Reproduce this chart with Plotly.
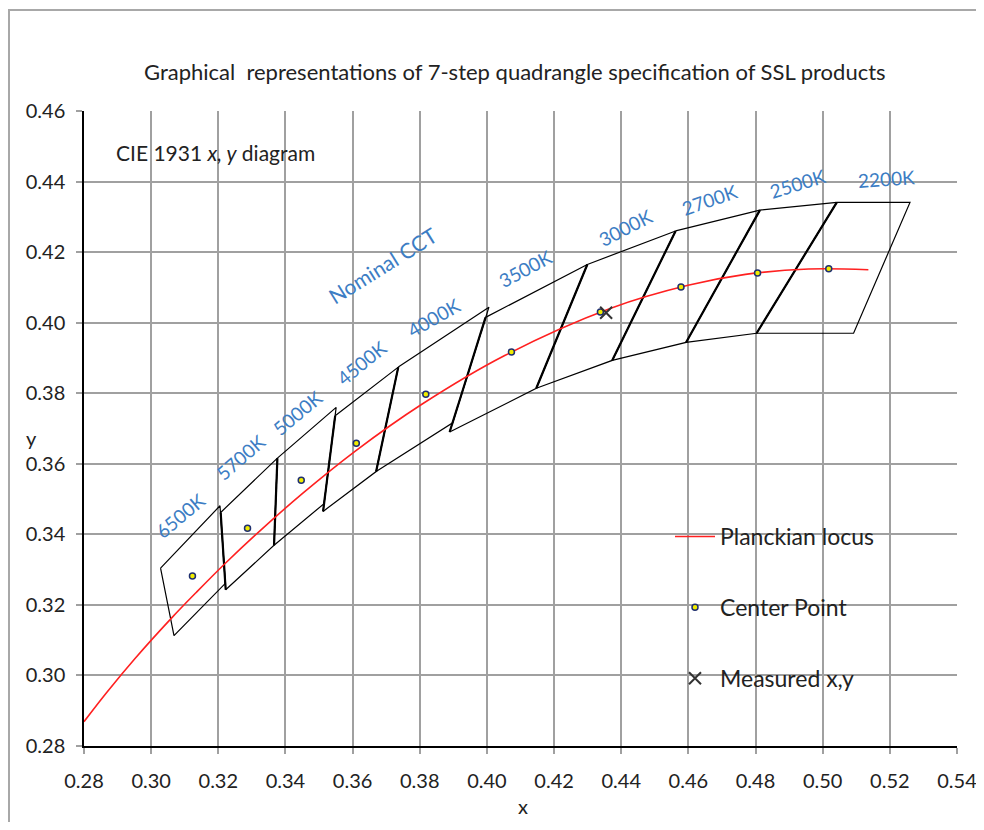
import plotly.graph_objects as go

# ---------------- data ----------------
cct_labels = ["6500K", "5700K", "5000K", "4500K", "4000K", "3500K", "3000K", "2700K", "2500K", "2200K"]

# quadrangle corners: cool-top, warm-top, warm-bottom, cool-bottom
quad_x = [
    [0.3028, 0.3205, 0.3221, 0.3068],
    [0.3207, 0.3376, 0.3366, 0.3222],
    [0.3376, 0.3551, 0.3515, 0.3366],
    [0.3548, 0.3736, 0.3670, 0.3512],
    [0.3736, 0.4006, 0.3898, 0.3670],
    [0.3996, 0.4299, 0.4147, 0.3889],
    [0.4299, 0.4562, 0.4373, 0.4147],
    [0.4562, 0.4813, 0.4593, 0.4373],
    [0.4813, 0.5042, 0.4803, 0.4593],
    [0.5042, 0.5260, 0.5092, 0.4803],
]
quad_y = [
    [0.3304, 0.3481, 0.3261, 0.3113],
    [0.3462, 0.3616, 0.3369, 0.3243],
    [0.3616, 0.3760, 0.3487, 0.3369],
    [0.3736, 0.3874, 0.3578, 0.3465],
    [0.3874, 0.4044, 0.3716, 0.3578],
    [0.4015, 0.4165, 0.3814, 0.3690],
    [0.4165, 0.4260, 0.3893, 0.3814],
    [0.4260, 0.4319, 0.3944, 0.3893],
    [0.4319, 0.4341, 0.3970, 0.3944],
    [0.4341, 0.4341, 0.3970, 0.3970],
]

center_x = [0.3123, 0.3287, 0.3447, 0.3611, 0.3818, 0.4073, 0.4338, 0.4578, 0.4806, 0.5018]
center_y = [0.3282, 0.3417, 0.3553, 0.3658, 0.3797, 0.3917, 0.4030, 0.4101, 0.4141, 0.4153]

planck_x = [0.2800, 0.2867, 0.2952, 0.3064, 0.3135, 0.3221, 0.3324, 0.3451, 0.3608,
            0.3805, 0.4053, 0.4369, 0.4599, 0.4770, 0.4958, 0.5136]
planck_y = [0.2869, 0.2951, 0.3048, 0.3166, 0.3236, 0.3318, 0.3410, 0.3516, 0.3636,
            0.3768, 0.3907, 0.4041, 0.4106, 0.4137, 0.4152, 0.4150]

measured_x = [0.4355]
measured_y = [0.4028]

x_ticks = [0.28, 0.30, 0.32, 0.34, 0.36, 0.38, 0.40, 0.42, 0.44, 0.46, 0.48, 0.50, 0.52, 0.54]
y_ticks = [0.28, 0.30, 0.32, 0.34, 0.36, 0.38, 0.40, 0.42, 0.44, 0.46]

# ---------------- styling ----------------
# the page body has an 8px margin, so the figure is offset by (8, 8) in the window
W, H = 968, 814
ML, MR, MT, MB = 76, 19, 103, 76
PW, PH = W - ML - MR, H - MT - MB
FONT = "Lato"
TXT = "#222222"
BLUE = "#3C7DC4"

def px2paper(px, py):
    """window pixel -> paper coordinates"""
    return (px - 8 - ML) / PW, (H - MB - (py - 8)) / PH

# label pixel offsets from top-edge midpoint and rotation angles
label_shift = [(-10, -21), (-9, -28), (-9, -20), (-5, -29), (-10, -20),
               (-11, -22), (-6, -20), (-8, -21), (-1, -23), (13, -24)]
label_angle = [-40, -41, -40, -39, -30, -28, -27, -19, -17, -4]

fig = go.Figure()

# quadrangles (thin outline)
for qx, qy in zip(quad_x, quad_y):
    fig.add_trace(go.Scatter(
        x=qx + [qx[0]], y=qy + [qy[0]], mode="lines",
        line=dict(color="black", width=1.2), showlegend=False, hoverinfo="skip"))
# thicker dividing edges (cool side of each quad except the first)
for qx, qy in list(zip(quad_x, quad_y))[1:]:
    fig.add_trace(go.Scatter(
        x=[qx[0], qx[3]], y=[qy[0], qy[3]], mode="lines",
        line=dict(color="black", width=2.2), showlegend=False, hoverinfo="skip"))

fig.add_trace(go.Scatter(
    x=planck_x, y=planck_y, mode="lines", name="Planckian locus",
    line=dict(color="#FF2020", width=1.6, shape="spline"), legendgroup="a"))
fig.add_trace(go.Scatter(
    x=center_x, y=center_y, mode="markers", name="Center Point",
    marker=dict(symbol="circle", size=6, color="#F0EC00",
                line=dict(color="#1F2F6F", width=1.5)), legendgroup="b"))
fig.add_trace(go.Scatter(
    x=measured_x, y=measured_y, mode="markers", name="Measured x,y",
    marker=dict(symbol="x-thin", size=12, color="#333333",
                line=dict(color="#333333", width=2)), legendgroup="c"))

annotations = []
# CCT labels
for i, lab in enumerate(cct_labels):
    mx = (quad_x[i][0] + quad_x[i][1]) / 2
    my = (quad_y[i][0] + quad_y[i][1]) / 2
    dx, dy = label_shift[i]
    annotations.append(dict(
        x=mx, y=my, xref="x", yref="y", text=lab, showarrow=False,
        xanchor="center", yanchor="middle",
        xshift=dx, yshift=-dy, textangle=label_angle[i],
        font=dict(family=FONT, size=19, color=BLUE)))

def paper_text(px, py, text, size, color=TXT, angle=0, xanchor="center", yanchor="middle"):
    x, y = px2paper(px, py)
    annotations.append(dict(x=x, y=y, xref="paper", yref="paper", text=text,
                            showarrow=False, xanchor=xanchor, yanchor=yanchor,
                            textangle=angle, font=dict(family=FONT, size=size, color=color)))

paper_text(382, 265, "Nominal CCT", 21, BLUE, -32)
paper_text(515, 72, "Graphical  representations of 7-step quadrangle specification of SSL products", 22)
paper_text(114, 152, "CIE 1931 <i>x, y</i> diagram", 21, xanchor="left")
paper_text(31, 438, "y", 20)
paper_text(523, 820, "x", 20, yanchor="bottom")

shapes = []
def paper_rect(px0, py0, px1, py1, **kw):
    x0, y0 = px2paper(px0, py1)
    x1, y1 = px2paper(px1, py0)
    shapes.append(dict(type="rect", xref="paper", yref="paper",
                       x0=x0, y0=y0, x1=x1, y1=y1, **kw))

# outer chart frame (right/bottom edges fall outside the page)
paper_rect(9, 10, 1000, 850, line=dict(color="#A8A8A8", width=2), layer="below")
# white boxes behind the CIE label and the legend
paper_rect(98, 116, 365, 168, fillcolor="white", line=dict(width=0), layer="between")
paper_rect(645, 501, 918, 715, fillcolor="white", line=dict(width=0), layer="between")

legx, legy = px2paper(670, 515)

fig.update_layout(
    width=W, height=H,
    margin=dict(l=ML, r=MR, t=MT, b=MB, autoexpand=False),
    paper_bgcolor="white", plot_bgcolor="white",
    font=dict(family=FONT, size=20, color=TXT),
    showlegend=True,
    legend=dict(x=legx, y=legy, xanchor="left", yanchor="top",
                bgcolor="rgba(0,0,0,0)", borderwidth=0,
                font=dict(family=FONT, size=23, color=TXT),
                tracegroupgap=38, itemwidth=40),
    annotations=annotations,
    shapes=shapes,
)
fig.update_xaxes(
    range=[0.28, 0.54], tickvals=x_ticks, ticktext=[f"{v:.2f}" for v in x_ticks],
    showgrid=True, gridcolor="#A0A0A0", gridwidth=1.5,
    showline=True, linecolor="black", linewidth=1.5,
    ticks="outside", ticklen=6, tickcolor="#A0A0A0", tickwidth=1.5,
    ticklabelstandoff=10, ticklabeloverflow="allow", automargin=False, zeroline=False,
    tickfont=dict(family=FONT, size=20, color=TXT))
fig.update_yaxes(
    range=[0.28, 0.46], tickvals=y_ticks, ticktext=[f"{v:.2f}" for v in y_ticks],
    showgrid=True, gridcolor="#A0A0A0", gridwidth=1.5,
    showline=True, linecolor="black", linewidth=1.5,
    ticks="outside", ticklen=6, tickcolor="#A0A0A0", tickwidth=1.5,
    ticklabelstandoff=7, automargin=False, zeroline=False,
    tickfont=dict(family=FONT, size=20, color=TXT))

fig.write_html("out.html")
